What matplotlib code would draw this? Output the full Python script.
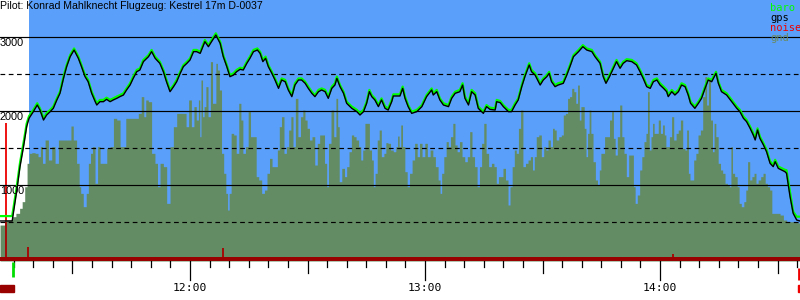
import matplotlib
matplotlib.use("Agg")
import numpy as np
import matplotlib.pyplot as plt
from matplotlib.patches import Rectangle
from matplotlib.transforms import blended_transform_factory

# time axis: minutes after 11:00
gps_time = [11.5, 14.6, 14.9, 15.8, 16.6, 17.5, 18.3, 18.9, 20.0, 21.0, 21.7, 22.6, 23.4, 24.3, 25.1,
            26.0, 26.8, 27.7, 28.5, 29.4, 30.4, 31.5, 32.3, 33.2, 34.0, 34.9, 35.8, 36.2, 37.0, 37.9,
            38.7, 39.6, 40.4, 41.3, 42.1, 43.0, 43.8, 44.7, 45.5, 46.4, 47.2, 48.1, 49.4, 50.2, 51.1,
            52.3, 53.2, 54.0, 54.9, 55.8, 56.6, 57.5, 58.3, 59.2, 60.0, 60.9, 61.7,
            62.6, 63.8, 64.7, 65.5, 66.6, 67.7, 68.5, 69.4, 70.2, 71.1, 71.9, 72.8, 73.6, 74.5, 75.3,
            76.2, 77.2, 77.9, 78.6, 79.3, 80.0, 80.9, 81.7, 82.6, 83.4, 84.3, 85.1, 86.0, 86.8, 87.7,
            88.5, 89.4, 90.2, 91.1, 91.9, 92.8, 93.6, 94.5, 95.3, 96.2, 97.0, 97.5, 98.3, 99.2, 100.0,
            101.3, 102.6, 103.4, 104.3, 105.1, 105.8, 106.4, 107.2, 108.1, 108.9, 109.8, 110.6, 111.5,
            111.9, 113.6,
            114.3, 114.9, 115.7, 116.6, 117.9, 119.2, 120.4, 121.7, 122.1, 123.0, 123.8, 124.7, 126.0,
            126.8, 127.7, 128.9, 129.6, 130.2, 131.1, 131.9, 132.8, 133.6, 134.9, 135.7, 136.6, 137.9,
            138.3, 139.2, 140.0, 141.3, 142.1, 143.0, 143.8, 144.7, 145.5, 146.6, 147.2, 148.1, 149.4,
            150.2, 151.1, 151.7, 152.3, 153.2, 154.0, 155.3, 156.2, 157.0, 157.9, 159.2, 160.3, 161.3,
            162.6, 163.4, 164.7,
            165.5, 166.2, 167.1, 167.9, 168.9, 169.8, 170.6, 171.5, 172.8, 174.0, 174.9, 175.7, 176.6,
            177.5, 178.3, 179.2, 180.0, 180.9, 181.7, 182.1, 183.0, 183.8, 184.7, 185.5, 186.4, 187.2,
            187.8, 188.9, 189.8, 190.6, 191.5, 192.3, 193.2, 194.3, 194.9, 195.7, 197.0, 198.3, 199.6,
            200.4, 201.3, 202.1, 203.0, 203.8, 204.3, 204.9, 205.5, 206.4, 207.2, 208.1, 208.9, 209.4,
            210.2, 211.9, 212.3, 213.2, 214.0, 214.9, 215.7]

gps_alt = [514, 514, 617, 932, 1248, 1518, 1788, 1901, 1991, 2081, 2013, 1878, 1946, 1991, 2036,
           2149, 2239, 2441, 2599, 2734, 2824, 2712, 2599, 2464, 2396, 2239, 2126, 2081, 2126, 2126,
           2158, 2126, 2149, 2171, 2194, 2216, 2284, 2351, 2441, 2531, 2554, 2667, 2734, 2802, 2712,
           2644, 2531, 2396, 2261, 2329, 2396, 2509, 2599, 2644, 2689, 2802, 2802,
           2779, 2937, 2869, 2937, 3027, 2914, 2734, 2599, 2464, 2486, 2531, 2563, 2554, 2644, 2712,
           2802, 2824, 2779, 2667, 2712, 2599, 2509, 2419, 2306, 2419, 2396, 2284, 2194, 2351, 2419,
           2419, 2374, 2306, 2239, 2194, 2261, 2284, 2261, 2171, 2306, 2351, 2441, 2329, 2239, 2104,
           2036, 1991, 1946, 1991, 2104, 2261, 2194, 2149, 2059, 2149, 2036, 2013, 2126,
           2203, 2203,
           2306, 2171, 2059, 1968, 1991, 2059, 2194, 2284, 2216, 2261, 2149, 2081, 2059,
           2171, 2239, 2261, 2351, 2171, 2081, 2261, 2216, 2036, 1968, 2059, 2022, 2013,
           2126, 2113, 2059, 1991, 1991, 2081, 2149, 2329, 2464, 2622, 2531, 2486, 2351,
           2419, 2464, 2509, 2396, 2329, 2351, 2374, 2486, 2599, 2734, 2802, 2869, 2824,
           2802, 2734, 2644,
           2464, 2374, 2464, 2554, 2667, 2577, 2644, 2680, 2667, 2622, 2531, 2441, 2329,
           2306, 2396, 2419, 2351, 2306, 2261, 2194, 2261, 2216, 2261, 2351, 2329, 2216,
           2104, 2036, 2104, 2171, 2306, 2419, 2396, 2509, 2374, 2261, 2216, 2126, 2036,
           1991, 1901, 1856, 1766, 1676, 1608, 1743, 1631, 1541, 1450, 1293, 1248, 1315,
           1225, 1180, 1158, 842, 617, 527, 514]

baro_alt = [580, 580, 680, 990, 1300, 1570, 1830, 1930, 2015, 2105, 2035, 1900, 1970, 2015, 2060,
            2170, 2260, 2465, 2620, 2755, 2845, 2735, 2620, 2485, 2420, 2260, 2150, 2105, 2150, 2150,
            2180, 2150, 2170, 2195, 2215, 2240, 2305, 2375, 2465, 2555, 2575, 2690, 2755, 2825, 2735,
            2665, 2555, 2420, 2285, 2350, 2420, 2530, 2620, 2665, 2710, 2825, 2825,
            2800, 2960, 2890, 2960, 3050, 2935, 2755, 2620, 2485, 2510, 2555, 2585, 2575, 2665, 2735,
            2825, 2845, 2800, 2690, 2735, 2620, 2530, 2440, 2330, 2440, 2420, 2305, 2215, 2375, 2440,
            2440, 2395, 2330, 2260, 2215, 2285, 2305, 2285, 2195, 2330, 2375, 2465, 2350, 2260, 2125,
            2060, 2015, 1970, 2015, 2125, 2285, 2215, 2170, 2080, 2170, 2060, 2035, 2150,
            2225, 2225,
            2330, 2195, 2080, 1990, 2015, 2080, 2215, 2305, 2240, 2285, 2170, 2105, 2080,
            2195, 2260, 2285, 2375, 2195, 2105, 2285, 2240, 2060, 1990, 2080, 2045, 2035,
            2150, 2135, 2080, 2015, 2015, 2105, 2170, 2350, 2485, 2645, 2555, 2510, 2375,
            2440, 2485, 2530, 2420, 2350, 2375, 2395, 2510, 2620, 2755, 2825, 2890, 2845,
            2825, 2755, 2665,
            2485, 2395, 2485, 2575, 2690, 2600, 2665, 2700, 2690, 2645, 2555, 2465, 2350,
            2330, 2420, 2440, 2375, 2330, 2285, 2215, 2285, 2240, 2285, 2375, 2350, 2240,
            2125, 2060, 2125, 2195, 2330, 2440, 2420, 2530, 2395, 2285, 2240, 2150, 2060,
            2015, 1925, 1880, 1790, 1700, 1635, 1765, 1655, 1565, 1475, 1320, 1270, 1340,
            1250, 1205, 1200, 900, 640, 572, 572]

gnd_time = [11.5, 14.0, 14.9, 16.2, 16.8, 17.5, 18.1, 18.7, 19.2, 20.0, 20.9, 21.5, 22.1, 22.6, 23.4,
            24.3, 25.1, 26.0, 26.8, 27.7, 28.5, 29.4, 29.8, 30.6, 31.5, 31.9, 32.3, 33.2, 33.8, 34.3,
            34.9, 35.3, 36.2, 36.6, 37.5, 38.3, 39.2, 40.0, 40.9, 41.7, 42.6, 43.4, 43.8, 44.7, 45.5,
            46.4, 47.2, 47.9, 48.5, 48.9, 49.8, 50.6, 51.5, 51.9, 52.8, 53.6, 54.5, 55.3, 56.2, 57.0,
            57.9, 58.7, 59.3, 60.0, 60.7, 61.3, 61.9, 62.4,
            62.6, 63.0, 63.4, 63.8, 64.3, 64.9, 65.5, 66.0, 66.4, 66.8, 67.2, 67.8, 68.3, 68.9, 69.4,
            69.8, 70.2, 70.8, 71.5, 72.1, 72.8, 73.2, 73.8, 74.5, 75.2, 75.7, 76.6, 77.2, 77.9, 78.7,
            79.3, 80.0, 80.6, 81.3, 82.0, 82.6, 83.0, 83.7, 84.3, 84.9, 85.5, 86.0, 86.6, 87.2, 87.9,
            88.5, 89.1, 89.6, 90.2, 90.8, 91.5, 92.2, 92.8, 93.4, 94.0, 94.7, 95.1, 95.6, 96.4, 97.0,
            97.5, 97.9, 98.3, 99.2, 99.7, 100.3, 100.9, 101.5, 102.1, 102.7, 103.4, 103.8, 104.4,
            104.9, 105.5, 106.1, 106.6, 107.0, 107.5, 108.1, 108.5, 109.2, 109.8, 110.2, 110.9, 111.5,
            112.3, 112.8, 113.2,
            113.6, 114.0, 114.5, 115.2, 115.7, 116.4, 117.0, 117.7, 118.3, 118.9, 119.6, 120.3, 120.9,
            121.7, 122.3, 123.0, 123.7, 124.0, 124.5, 125.1, 125.7, 126.2, 126.8, 127.4, 127.9, 128.5,
            129.1, 129.8, 130.5, 131.1, 131.7, 132.3, 133.0, 133.6, 134.2, 134.7, 135.3, 135.9, 136.6,
            137.3, 137.9, 138.5, 139.0, 139.6, 140.2, 140.9, 141.5, 141.9, 142.6, 143.0, 143.6, 144.1,
            144.7, 145.3, 146.0, 146.6, 147.2, 147.7, 148.1, 148.7, 149.4, 150.0, 150.6, 151.1, 151.7,
            152.3, 152.8, 153.2, 153.8, 154.5, 155.1, 155.5, 156.2, 156.6, 157.2, 157.7, 158.3, 158.7,
            159.2, 159.6, 160.0, 160.4, 160.9, 161.3, 161.7, 162.1, 162.6, 163.2, 163.8, 164.3,
            164.7, 165.1, 165.5, 166.2, 166.8, 167.4, 167.9, 168.3, 168.8, 169.4, 170.0, 170.5, 171.1,
            171.7, 172.3, 173.0, 173.4, 173.9, 174.5, 175.1, 175.6, 176.2, 176.6, 177.0, 177.5, 177.9,
            178.3, 178.7, 179.3, 179.8, 180.4, 180.9, 181.3, 181.7, 182.1, 182.7, 183.2, 183.8, 184.4,
            184.9, 185.5, 186.1, 186.6, 187.0, 187.5, 187.8, 188.3, 188.9, 189.4, 190.0, 190.6, 191.2,
            191.7, 192.1, 192.6, 193.2, 193.6, 194.0, 194.5, 195.2, 195.7, 196.3, 196.9, 197.5, 197.9,
            198.3, 198.7, 199.4, 200.0, 200.4, 201.1, 201.7, 202.1, 202.6, 203.2, 203.7, 204.3, 204.7,
            205.4, 206.0, 206.6, 207.1, 207.7, 208.3, 208.8, 209.4, 210.2, 211.1, 211.9, 212.8, 213.6,
            214.5, 215.3, 215.74]

gnd_alt = [459, 527, 572, 617, 685, 775, 977, 1293, 1428, 1437, 1428, 1383, 1518, 1293, 1608,
           1338, 1518, 1293, 1608, 1608, 1608, 1608, 1797, 1608, 1293, 977, 887, 707, 887, 1293,
           1428, 1518, 1023, 1518, 1293, 1293, 1495, 1518, 1901, 1878, 1518, 1518, 1901, 1901, 1901,
           1901, 1968, 2194, 1923, 2149, 2126, 1428, 1293, 977, 1293, 1248, 752, 1518, 1788, 1968,
           1968, 1968, 1788, 2149, 1788, 2059, 1878, 2149,
           1653, 2419, 1923, 2059, 2329, 1923, 2667, 2104, 2104, 2644, 2554, 2284, 1428, 1158, 887,
           662, 887, 1698, 1676, 1428, 2104, 1878, 1428, 1518, 1991, 1653, 1653, 1113, 1068, 887,
           932, 1158, 1360, 1248, 1248, 1473, 1788, 1923, 1428, 1518, 1743, 1923, 1518, 2171, 1653,
           1923, 2013, 1878, 1766, 1608, 1653, 1270, 1563, 1676, 1676, 1293, 977, 1563, 2013, 1653,
           2171, 1788, 1045, 1225, 1113, 1248, 1450, 1676, 1653, 1608, 1518, 1338, 1473,
           1833, 1833, 1473, 1338, 977, 1158, 1608, 1743, 1383, 1428, 1572, 1563, 1473,
           1450, 1518, 1662,
           1518, 1811, 1518, 1180, 977, 1158, 1338, 1563, 1383, 1563, 1383, 1563, 1383,
           1473, 1383, 1248, 1068, 887, 1158, 1383, 1586, 1518, 1653, 1833, 1541, 1450,
           1586, 1383, 1315, 1383, 1721, 1383, 1248, 977, 1248, 1563, 1833, 1428, 1248,
           1293, 1248, 1023, 1113, 1113, 1225, 1068, 730, 977, 1248, 1473, 1428, 1766,
           2013, 1248, 1293, 1338, 1383, 1203, 1383, 1653, 1676, 1383, 1518, 1473, 1608,
           1518, 1766, 1743, 1608, 1653, 1676, 1946, 1968, 2171, 2194, 2306, 2261, 2104,
           2351, 1878, 2059, 2059, 1766, 1383, 1698, 2013, 1698, 1315, 1068, 1000,
           1203, 1428, 1428, 1653, 1653, 1878, 1991, 1631, 1405, 1653, 2081, 1653, 1428,
           1113, 1405, 1405, 977, 752, 865, 1203, 1383, 1586, 1698, 2261, 1473, 1653,
           1833, 1698, 1698, 1878, 1698, 1811, 1676, 1518, 1518, 1653, 1923, 1608, 1698,
           1743, 1878, 1495, 1473, 1743, 1158, 1068, 1068, 1338, 1428, 1676, 1743, 2194,
           2464, 2081, 2441, 1878, 1450, 1833, 1653, 1293, 1203, 1158, 1023, 1000, 977,
           1518, 1158, 1113, 977, 752, 707, 775, 932, 1315, 1068, 1113, 1158, 1023,
           1068, 1113, 1158, 1023, 977, 932, 617, 617, 617, 594, 527, 504, 504,
           504, 491, 482]

noise_time = [13.0, 18.6, 68.4, 183.3]
noise_level = [1840, 160, 150, 70]

flight_start = 18.9     # blue background starts here
takeoff_mark = 14.8
landing_mark = 215.4
hour_ticks = [60, 120, 180]
hour_labels = ["12:00", "13:00", "14:00"]
alt_ticks = [1000, 2000, 3000]
alt_half = [500, 1500, 2500]
title = "Pilot: Konrad Mahlknecht Flugzeug: Kestrel 17m D-0037"
legend_names = ["baro", "gps", "noise", "gnd"]

SKY = "#5aa0fa"
GND = "#648c64"
BARO = "#00ff00"
NOISE = "#ee0000"
DARKRED = "#990000"

t_min, t_max = 11.49, 215.74

fig = plt.figure(figsize=(8, 3), dpi=100)
ax = fig.add_axes([0, 39 / 300, 1, 261 / 300])
ax.set_xlim(t_min, t_max)
ax.set_ylim(-27, 3500)
ax.set_axis_off()

ax.axvspan(flight_start, t_max, color=SKY, lw=0, zorder=0)

# noise spike (bright above ground, dark inside it)
ax.vlines(noise_time, 0, noise_level, color=NOISE, lw=1.3, zorder=1)
ax.fill_between(gnd_time, gnd_alt, -27, step="mid", color=GND, lw=0, zorder=2)
gnd_at_noise = np.interp(noise_time, gnd_time, gnd_alt)
ax.vlines(noise_time, 0, np.minimum(noise_level, gnd_at_noise), color="#aa0000", lw=1.3, zorder=2.5)

for y in alt_ticks:
    ax.axhline(y, color="black", lw=0.85, zorder=3)
    ax.text(0.0, y - 20, str(y), transform=blended_transform_factory(ax.transAxes, ax.transData),
            ha="left", va="top", fontsize=7.8, family="Liberation Sans", zorder=6)
for y in alt_half:
    ax.axhline(y, color="black", lw=0.85, ls=(0, (4, 3)), zorder=3)

ax.plot(gps_time, baro_alt, color=BARO, lw=1.6, zorder=4)
ax.plot(gps_time, gps_alt, color="black", lw=1.0, zorder=5)

ax.axhspan(-27, 27, color=DARKRED, lw=0, zorder=5)

# time axis below the plot
tr = blended_transform_factory(ax.transData, fig.transFigure)
y0 = 1 - 261 / 300
for m in range(15, 216, 5):
    if m % 60 == 0:
        y1 = 1 - 280 / 300
    elif m % 30 == 0:
        y1 = 1 - 273 / 300
    else:
        y1 = 1 - 267 / 300
    ax.plot([m, m], [y0, y1], color="black", lw=0.9, transform=tr, clip_on=False)
for m, lab in zip(hour_ticks, hour_labels):
    ax.text(m, 1 - 288 / 300, lab, transform=tr, ha="center", va="center",
            fontsize=8.2, family="DejaVu Sans Mono")

ax.plot([takeoff_mark, takeoff_mark], [1 - 262 / 300, 1 - 277 / 300], color="#00dd00", lw=2,
        transform=tr, clip_on=False, solid_capstyle="butt")
ax.plot([landing_mark, landing_mark], [1 - 268 / 300, 1 - 280 / 300], color=NOISE, lw=2,
        transform=tr, clip_on=False, solid_capstyle="butt")
fig.patches.append(Rectangle((0, 1 - 292 / 300), 14 / 800, 7 / 300, color=DARKRED,
                             transform=fig.transFigure))
fig.patches.append(Rectangle((798 / 800, 1 - 292 / 300), 2 / 800, 7 / 300, color=NOISE,
                             transform=fig.transFigure))

# title and legend
fig.text(0.0, 1 - 1 / 300, title, ha="left", va="top", fontsize=7.6, family="Liberation Sans")
for i, (name, col) in enumerate(zip(legend_names, [BARO, "black", NOISE, "#6a8a60"])):
    fig.text(770 / 800, 1 - (8 + 10 * i) / 300, name, ha="left", va="center",
             fontsize=7.5, family="DejaVu Sans Mono", color=col)

fig.savefig("out.png", dpi=100)
